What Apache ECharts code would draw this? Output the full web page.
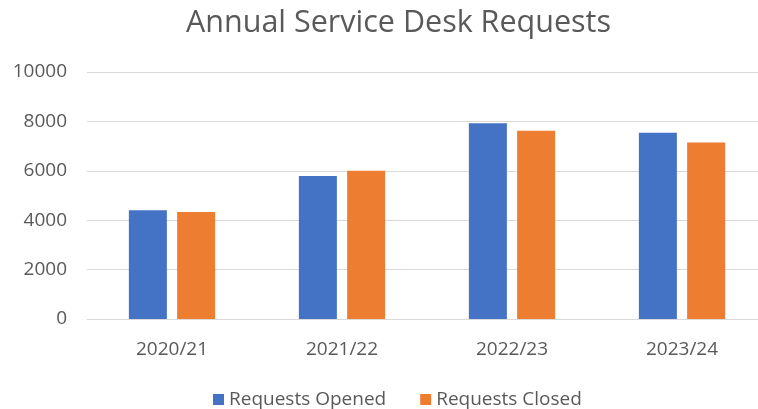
<!DOCTYPE html>
<html>
<head>
<meta charset="utf-8">
<script src="https://cdn.jsdelivr.net/npm/echarts@6/dist/echarts.min.js"></script>
<style>
html,body{margin:0;padding:0;background:#fff;}
#chart{width:758px;height:409px;}
</style>
</head>
<body>
<div id="chart"></div>
<script>
const categories = ['2020/21', '2021/22', '2022/23', '2023/24'];
const requestsOpened = [4400, 5790, 7930, 7540];
const requestsClosed = [4330, 6000, 7620, 7150];
const yTicks = [0, 2000, 4000, 6000, 8000, 10000];

const font = '"Open Sans", "Liberation Sans", sans-serif';
const chart = echarts.init(document.getElementById('chart'));
chart.setOption({
  animation: false,
  backgroundColor: '#ffffff',
  title: {
    text: 'Annual Service Desk Requests',
    left: 181,
    top: 3,
    textStyle: { fontFamily: font, fontSize: 30.5, fontWeight: 'normal', color: '#595959' }
  },
  legend: {
    bottom: 0,
    left: 208,
    padding: [0, 5],
    itemWidth: 11,
    itemHeight: 11,
    itemGap: 34,
    icon: 'rect',
    textStyle: { fontFamily: font, fontSize: 19, color: '#595959' },
    data: ['Requests Opened', 'Requests Closed']
  },
  grid: { left: 87, width: 680, top: 72, bottom: 90, containLabel: false, outerBoundsMode: 'none' },
  xAxis: {
    type: 'category',
    data: categories,
    axisLine: { lineStyle: { color: '#d9d9d9', width: 1 } },
    axisTick: { show: false },
    axisLabel: { fontFamily: font, fontSize: 19, color: '#595959', margin: 21 }
  },
  yAxis: {
    type: 'value',
    min: yTicks[0],
    max: yTicks[yTicks.length - 1],
    interval: 2000,
    axisLine: { show: false },
    axisTick: { show: false },
    splitLine: { lineStyle: { color: '#d9d9d9', width: 1 } },
    axisLabel: { fontFamily: font, fontSize: 19, color: '#595959', margin: 20, formatter: v => String(v) }
  },
  series: [
    {
      name: 'Requests Opened',
      type: 'bar',
      data: requestsOpened,
      barWidth: 38,
      barGap: '27%',
      itemStyle: { color: '#4472c4' }
    },
    {
      name: 'Requests Closed',
      type: 'bar',
      data: requestsClosed,
      barWidth: 38,
      itemStyle: { color: '#ed7d31' }
    }
  ]
});
</script>
</body>
</html>
